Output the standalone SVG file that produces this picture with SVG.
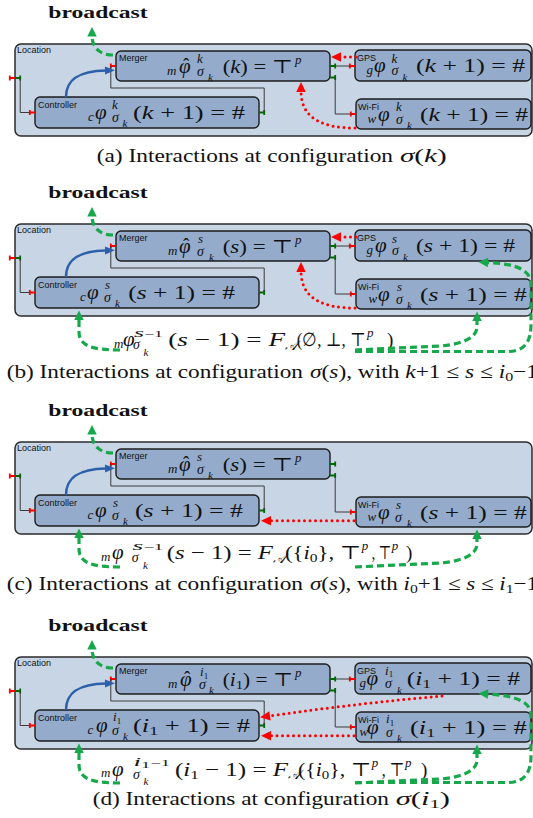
<svg xmlns="http://www.w3.org/2000/svg" width="533" height="818" viewBox="0 0 533 818">
<style>
.loc{fill:#c8d5e5;stroke:#2b2b2b;stroke-width:1.5}
.box{fill:#94abcb;stroke:#1c1c1c;stroke-width:1.4}
.wire{fill:none;stroke:#3a3a3a;stroke-width:1}
.gd{fill:none;stroke:#17a84b;stroke-width:3.2;stroke-dasharray:7 4;marker-end:url(#mg)}
.rd{fill:none;stroke:#ff0000;stroke-width:3;stroke-linecap:round;stroke-dasharray:0 5.5;marker-end:url(#mr)}
.bl{fill:none;stroke:#2d60ab;stroke-width:2.5;marker-end:url(#mb)}
.lbl{font-family:"Liberation Sans",Arial,sans-serif;font-size:9px;fill:#111}
.mt{font-family:"Liberation Serif","DejaVu Serif",serif;font-size:19px;fill:#111}
.it{font-style:italic}
.ph{font-size:21px;font-style:italic}
.hat{font-size:19px;font-style:normal}
.s{font-size:13px;font-style:italic}
.sg{font-size:14px;font-style:italic}
.ss{font-size:11px;font-style:italic}
.n9{font-size:9px;font-style:normal}
.bc{font-family:"Liberation Serif",serif;font-weight:bold;font-size:17px;fill:#111}
.cap{font-family:"Liberation Serif","DejaVu Serif",serif;font-size:19px;fill:#111}
</style>
<defs>
<marker id="mg" markerUnits="userSpaceOnUse" markerWidth="12" markerHeight="12" refX="1" refY="4.75" orient="auto" overflow="visible"><path d="M0,0L9.5,4.75L0,9.5z" fill="#17a84b"/></marker>
<marker id="mr" markerUnits="userSpaceOnUse" markerWidth="12" markerHeight="12" refX="1" refY="4.75" orient="auto" overflow="visible"><path d="M0,0L10,4.75L0,9.5z" fill="#ff0000"/></marker>
<marker id="mb" markerUnits="userSpaceOnUse" markerWidth="12" markerHeight="12" refX="1" refY="4" orient="auto" overflow="visible"><path d="M0,0L10,4L0,8z" fill="#2d60ab"/></marker>
<g id="pr"><path d="M0,0H6M0.8,-2.6V2.6" stroke="#ff0000" stroke-width="1.8" fill="none"/></g>
<g id="pg"><path d="M0,0H6M5.2,-2.6V2.6" stroke="#006b00" stroke-width="1.8" fill="none"/></g>
</defs>

<!-- ================= PANEL A ================= -->
<g id="panel-a">
<text id="a-broadcast" class="bc" x="48.3" y="18.3" textLength="99.4" lengthAdjust="spacingAndGlyphs">broadcast</text>
<g id="a-location"><rect class="loc" x="15" y="44" width="517" height="92" rx="6"/><text class="lbl" x="17" y="53.2">Location</text><use href="#pr" x="9" y="78"/><use href="#pg" x="15" y="78"/></g>
<g id="a-merger"><rect class="box" x="116" y="51" width="214" height="30" rx="5"/><text class="lbl" x="119" y="60.5">Merger</text><use href="#pr" x="110" y="66"/><use href="#pg" x="330" y="66"/><use href="#pg" x="330" y="77.5"/>
<text class="mt"><tspan class="s" x="167" y="74.5">m</tspan><tspan class="ph" x="179" y="72.5">φ</tspan><tspan class="hat" x="183" y="70.5">ˆ</tspan><tspan class="s" x="197" y="63">k</tspan><tspan class="sg" x="197" y="75.5">σ</tspan><tspan class="ss" x="208" y="81">k</tspan><tspan x="222.7" y="72.5" textLength="70.3" lengthAdjust="spacingAndGlyphs">(<tspan class="it">k</tspan>) = ⊤</tspan><tspan class="s" x="295" y="63.5">p</tspan></text></g>
<g id="a-controller"><rect class="box" x="35" y="97" width="224" height="31" rx="5"/><text class="lbl" x="38" y="108.3">Controller</text><use href="#pr" x="29" y="112.5"/><use href="#pg" x="259" y="112.5"/>
<text class="mt"><tspan class="s" x="88" y="120.5">c</tspan><tspan class="ph" x="95" y="118.5">φ</tspan><tspan class="s" x="112" y="109">k</tspan><tspan class="sg" x="112" y="121.5">σ</tspan><tspan class="ss" x="122.5" y="127">k</tspan><tspan x="133" y="118.5" textLength="112" lengthAdjust="spacingAndGlyphs">(<tspan class="it">k</tspan> + 1) = #</tspan></text></g>
<g id="a-gps"><rect class="box" x="355" y="50" width="176" height="31" rx="5"/><text class="lbl" x="357" y="61">GPS</text><use href="#pr" x="349" y="66"/>
<text class="mt"><tspan class="s" x="366.5" y="74">g</tspan><tspan class="ph" x="374" y="72">φ</tspan><tspan class="s" x="391.5" y="62.5">k</tspan><tspan class="sg" x="391.5" y="75">σ</tspan><tspan class="ss" x="402.5" y="80.5">k</tspan><tspan x="416" y="72" textLength="109" lengthAdjust="spacingAndGlyphs">(<tspan class="it">k</tspan> + 1) = #</tspan></text></g>
<g id="a-wifi"><rect class="box" x="356" y="99" width="175" height="30" rx="5"/><text class="lbl" x="358" y="110">Wi-Fi</text><use href="#pr" x="350" y="114"/>
<text class="mt"><tspan class="s" x="367.5" y="122.5">w</tspan><tspan class="ph" x="378" y="120.5">φ</tspan><tspan class="s" x="396" y="111">k</tspan><tspan class="sg" x="396" y="123.5">σ</tspan><tspan class="ss" x="407" y="129">k</tspan><tspan x="420" y="120.5" textLength="108" lengthAdjust="spacingAndGlyphs">(<tspan class="it">k</tspan> + 1) = #</tspan></text></g>
<g id="a-connectors">
<path class="wire" d="M20.2,78V112.5H29.8"/>
<path class="wire" d="M264.2,112.5V88H110.8V66"/>
<path class="wire" d="M335.2,66H349.8"/>
<path class="wire" d="M335.2,77.5V114H350.8"/>
<path class="bl" d="M66,97C66,80 78,71 106,70.5"/>
<path class="gd" d="M113,55C100,55 92,48 92,35.5"/>
<path class="rd" d="M356,57H340"/>
<path class="rd" d="M355,128C325,128 301,120 301,91"/>
</g>
<text id="a-caption" class="cap" y="161.5"><tspan x="96.7" textLength="296.3" lengthAdjust="spacingAndGlyphs">(a) Interactions at configuration</tspan><tspan x="400" textLength="46.7" lengthAdjust="spacingAndGlyphs"><tspan class="it">σ</tspan>(<tspan class="it">k</tspan>)</tspan></text>
</g>

<!-- ================= PANEL B ================= -->
<g id="panel-b" transform="translate(0,180)">
<text id="b-broadcast" class="bc" x="48.3" y="18.3" textLength="99.4" lengthAdjust="spacingAndGlyphs">broadcast</text>
<g id="b-location"><rect class="loc" x="15" y="44" width="517" height="92" rx="6"/><text class="lbl" x="17" y="53.2">Location</text><use href="#pr" x="9" y="78"/><use href="#pg" x="15" y="78"/></g>
<g id="b-merger"><rect class="box" x="116" y="51" width="214" height="30" rx="5"/><text class="lbl" x="119" y="60.5">Merger</text><use href="#pr" x="110" y="66"/><use href="#pg" x="330" y="66"/><use href="#pg" x="330" y="77.5"/>
<text class="mt"><tspan class="s" x="168" y="74.5">m</tspan><tspan class="ph" x="179" y="72.5">φ</tspan><tspan class="hat" x="183" y="70.5">ˆ</tspan><tspan class="s" x="198" y="63">s</tspan><tspan class="sg" x="197" y="75.5">σ</tspan><tspan class="ss" x="209" y="81">k</tspan><tspan x="222.7" y="72.5" textLength="70.3" lengthAdjust="spacingAndGlyphs">(<tspan class="it">s</tspan>) = ⊤</tspan><tspan class="s" x="295" y="63.5">p</tspan></text></g>
<g id="b-controller"><rect class="box" x="35" y="97" width="224" height="31" rx="5"/><text class="lbl" x="38" y="108.3">Controller</text><use href="#pr" x="29" y="112.5"/><use href="#pg" x="259" y="112.5"/>
<text class="mt"><tspan class="s" x="80" y="120.5">c</tspan><tspan class="ph" x="87" y="118.5">φ</tspan><tspan class="s" x="105" y="109">s</tspan><tspan class="sg" x="104" y="121.5">σ</tspan><tspan class="ss" x="115" y="127">k</tspan><tspan x="128.3" y="118.5" textLength="106.7" lengthAdjust="spacingAndGlyphs">(<tspan class="it">s</tspan> + 1) = #</tspan></text></g>
<g id="b-gps"><rect class="box" x="355" y="50" width="176" height="31" rx="5"/><text class="lbl" x="357" y="61">GPS</text><use href="#pr" x="349" y="66"/>
<text class="mt"><tspan class="s" x="366.5" y="74">g</tspan><tspan class="ph" x="375" y="72">φ</tspan><tspan class="s" x="392" y="62.5">s</tspan><tspan class="sg" x="392" y="75">σ</tspan><tspan class="ss" x="403" y="80.5">k</tspan><tspan x="416" y="72" textLength="99" lengthAdjust="spacingAndGlyphs">(<tspan class="it">s</tspan> + 1) = #</tspan></text></g>
<g id="b-wifi"><rect class="box" x="356" y="99" width="175" height="30" rx="5"/><text class="lbl" x="358" y="110">Wi-Fi</text><use href="#pr" x="350" y="114"/>
<text class="mt"><tspan class="s" x="368.5" y="122.5">w</tspan><tspan class="ph" x="378" y="120.5">φ</tspan><tspan class="s" x="397" y="111">s</tspan><tspan class="sg" x="396" y="123.5">σ</tspan><tspan class="ss" x="407" y="129">k</tspan><tspan x="420" y="120.5" textLength="106.7" lengthAdjust="spacingAndGlyphs">(<tspan class="it">s</tspan> + 1) = #</tspan></text></g>
<text id="b-formula" class="mt"><tspan class="s" x="114" y="167.5">m</tspan><tspan class="ph" x="123" y="166">φ</tspan><tspan class="s" x="134" y="156.5" textLength="29" lengthAdjust="spacingAndGlyphs">s<tspan class="n9" font-size="13">−1</tspan></tspan><tspan class="sg" x="133" y="169">σ</tspan><tspan class="ss" x="143.5" y="175.5">k</tspan><tspan x="168.3" y="166" textLength="116.7" lengthAdjust="spacingAndGlyphs">(<tspan class="it">s</tspan> − 1) = <tspan class="it">F</tspan></tspan><tspan class="s" x="285" y="169.5">𝒜</tspan><tspan x="296.7" y="166" textLength="69" lengthAdjust="spacingAndGlyphs">(∅, ⊥, ⊤</tspan><tspan class="s" x="367" y="157">p</tspan><tspan x="387" y="166">)</tspan></text>
<g id="b-connectors">
<path class="wire" d="M20.2,78V112.5H29.8"/>
<path class="wire" d="M264.2,112.5V88H110.8V66"/>
<path class="wire" d="M335.2,66H349.8"/>
<path class="wire" d="M335.2,77.5V114H350.8"/>
<path class="bl" d="M66,97C66,80 78,71 106,70.5"/>
<path class="gd" d="M113,55C100,55 92,48 92,35.5"/>
<path class="rd" d="M356,57H340"/>
<path class="rd" d="M355,128C325,128 301,120 301,91"/>
<path class="gd" d="M120,170C92,170 79,166 79,152L79,139"/>
<path class="gd" d="M355,170L440,166C466,164 477,156 477,147L477,140"/>
<path class="gd" d="M355,171.5L508,171.5C524,171.5 531,162 531,145L531,105C531,90 518,84 487,82.5"/>
</g>
<text id="b-caption" class="cap" y="197.5"><tspan x="6.7" textLength="296.3" lengthAdjust="spacingAndGlyphs">(b) Interactions at configuration</tspan><tspan x="310" textLength="228" lengthAdjust="spacingAndGlyphs"><tspan class="it">σ</tspan>(<tspan class="it">s</tspan>), with <tspan class="it">k</tspan>+1 ≤ <tspan class="it">s</tspan> ≤ <tspan class="it">i</tspan><tspan font-size="13" dy="3">0</tspan><tspan dy="-3">−1</tspan></tspan></text>
</g>

<!-- ================= PANEL C ================= -->
<g id="panel-c" transform="translate(0,398)">
<text id="c-broadcast" class="bc" x="48.3" y="18.3" textLength="99.4" lengthAdjust="spacingAndGlyphs">broadcast</text>
<g id="c-location"><rect class="loc" x="15" y="44" width="517" height="92" rx="6"/><text class="lbl" x="17" y="53.2">Location</text><use href="#pr" x="9" y="78"/><use href="#pg" x="15" y="78"/></g>
<g id="c-merger"><rect class="box" x="116" y="51" width="214" height="30" rx="5"/><text class="lbl" x="119" y="60.5">Merger</text><use href="#pr" x="110" y="66"/><use href="#pg" x="330" y="66"/><use href="#pg" x="330" y="77.5"/>
<text class="mt"><tspan class="s" x="168" y="74.5">m</tspan><tspan class="ph" x="179" y="72.5">φ</tspan><tspan class="hat" x="183" y="70.5">ˆ</tspan><tspan class="s" x="197" y="63">s</tspan><tspan class="sg" x="197" y="75.5">σ</tspan><tspan class="ss" x="208" y="81">k</tspan><tspan x="222.7" y="72.5" textLength="70.3" lengthAdjust="spacingAndGlyphs">(<tspan class="it">s</tspan>) = ⊤</tspan><tspan class="s" x="295" y="63.5">p</tspan></text></g>
<g id="c-controller"><rect class="box" x="35" y="97" width="224" height="31" rx="5"/><text class="lbl" x="38" y="108.3">Controller</text><use href="#pr" x="29" y="112.5"/><use href="#pg" x="259" y="112.5"/>
<text class="mt"><tspan class="s" x="87.5" y="120.5">c</tspan><tspan class="ph" x="95" y="118.5">φ</tspan><tspan class="s" x="113" y="109">s</tspan><tspan class="sg" x="112" y="121.5">σ</tspan><tspan class="ss" x="123" y="127">k</tspan><tspan x="135" y="118.5" textLength="108" lengthAdjust="spacingAndGlyphs">(<tspan class="it">s</tspan> + 1) = #</tspan></text></g>
<g id="c-wifi"><rect class="box" x="356" y="99" width="175" height="30" rx="5"/><text class="lbl" x="358" y="110">Wi-Fi</text><use href="#pr" x="350" y="114"/>
<text class="mt"><tspan class="s" x="367.5" y="122.5">w</tspan><tspan class="ph" x="378" y="120.5">φ</tspan><tspan class="s" x="396" y="111">s</tspan><tspan class="sg" x="395" y="123.5">σ</tspan><tspan class="ss" x="407" y="129">k</tspan><tspan x="420" y="120.5" textLength="106.7" lengthAdjust="spacingAndGlyphs">(<tspan class="it">s</tspan> + 1) = #</tspan></text></g>
<text id="c-formula" class="mt"><tspan class="s" x="101" y="162.5">m</tspan><tspan class="ph" x="112" y="161">φ</tspan><tspan class="s" x="132.5" y="151.5" textLength="30.8" lengthAdjust="spacingAndGlyphs">s<tspan class="n9" font-size="13">−1</tspan></tspan><tspan class="sg" x="131.7" y="164">σ</tspan><tspan class="ss" x="143" y="170.5">k</tspan><tspan x="166.7" y="161" textLength="106.3" lengthAdjust="spacingAndGlyphs">(<tspan class="it">s</tspan> − 1) = <tspan class="it">F</tspan></tspan><tspan class="s" x="273" y="164.5">𝒜</tspan><tspan x="285" y="161" textLength="76.2" lengthAdjust="spacingAndGlyphs">({<tspan class="it">i</tspan><tspan font-size="13" dy="3">0</tspan><tspan dy="-3">}, ⊤</tspan></tspan><tspan class="s" x="361.7" y="152">p</tspan><tspan x="371.7" y="161" textLength="19.5" lengthAdjust="spacingAndGlyphs">, ⊤</tspan><tspan class="s" x="391.7" y="152">p</tspan><tspan x="406" y="161">)</tspan></text>
<g id="c-connectors">
<path class="wire" d="M20.2,78V112.5H29.8"/>
<path class="wire" d="M264.2,112.5V88H110.8V66"/>
<path class="wire" d="M335.2,77.5V114H350.8"/>
<path class="bl" d="M66,97C66,80 78,71 106,70.5"/>
<path class="gd" d="M113,55C100,55 92,48 92,35.5"/>
<path class="rd" d="M354,122.7H270"/>
<path class="gd" d="M120,169C92,169 79,165 79,151L79,139"/>
<path class="gd" d="M355,169L440,165C466,163 477,155 477,146L477,140"/>
</g>
<text id="c-caption" class="cap" y="192"><tspan x="6.7" textLength="296.3" lengthAdjust="spacingAndGlyphs">(c) Interactions at configuration</tspan><tspan x="310" textLength="228" lengthAdjust="spacingAndGlyphs"><tspan class="it">σ</tspan>(<tspan class="it">s</tspan>), with <tspan class="it">i</tspan><tspan font-size="13" dy="3">0</tspan><tspan dy="-3">+1 ≤ </tspan><tspan class="it">s</tspan> ≤ <tspan class="it">i</tspan><tspan font-size="13" dy="3">1</tspan><tspan dy="-3">−1</tspan></tspan></text>
</g>

<!-- ================= PANEL D ================= -->
<g id="panel-d" transform="translate(0,613)">
<text id="d-broadcast" class="bc" x="48.3" y="18.3" textLength="99.4" lengthAdjust="spacingAndGlyphs">broadcast</text>
<g id="d-location"><rect class="loc" x="15" y="44" width="517" height="92" rx="6"/><text class="lbl" x="17" y="53.2">Location</text><use href="#pr" x="9" y="78"/><use href="#pg" x="15" y="78"/></g>
<g id="d-merger"><rect class="box" x="116" y="51" width="214" height="30" rx="5"/><text class="lbl" x="119" y="60.5">Merger</text><use href="#pr" x="110" y="66"/><use href="#pg" x="330" y="66"/><use href="#pg" x="330" y="77.5"/>
<text class="mt"><tspan class="s" x="168" y="74.5">m</tspan><tspan class="ph" x="180" y="72.5">φ</tspan><tspan class="hat" x="184" y="70.5">ˆ</tspan><tspan class="s" x="200" y="63">i<tspan class="n9" dy="2.5">1</tspan></tspan><tspan class="sg" x="199" y="75.5">σ</tspan><tspan class="ss" x="209" y="81">k</tspan><tspan x="222.7" y="72.5" textLength="70.3" lengthAdjust="spacingAndGlyphs">(<tspan class="it">i</tspan><tspan font-size="13" dy="3">1</tspan><tspan dy="-3">) = ⊤</tspan></tspan><tspan class="s" x="295" y="63.5">p</tspan></text></g>
<g id="d-controller"><rect class="box" x="35" y="97" width="224" height="31" rx="5"/><text class="lbl" x="38" y="108.3">Controller</text><use href="#pr" x="29" y="112.5"/><use href="#pg" x="259" y="112.5"/>
<text class="mt"><tspan class="s" x="87.5" y="120.5">c</tspan><tspan class="ph" x="96" y="118.5">φ</tspan><tspan class="s" x="113" y="108">i<tspan class="n9" dy="2.5">1</tspan></tspan><tspan class="sg" x="112" y="121.5">σ</tspan><tspan class="ss" x="123" y="127">k</tspan><tspan x="133" y="118.5" textLength="117" lengthAdjust="spacingAndGlyphs">(<tspan class="it">i</tspan><tspan font-size="13" dy="3">1</tspan><tspan dy="-3"> + 1) = #</tspan></tspan></text></g>
<g id="d-gps"><rect class="box" x="355" y="50" width="176" height="31" rx="5"/><text class="lbl" x="357" y="61">GPS</text><use href="#pr" x="349" y="66"/>
<text class="mt"><tspan class="s" x="359.5" y="74">g</tspan><tspan class="ph" x="366.5" y="72">φ</tspan><tspan class="s" x="385" y="61.5">i<tspan class="n9" dy="2.5">1</tspan></tspan><tspan class="sg" x="385" y="75">σ</tspan><tspan class="ss" x="397" y="80.5">k</tspan><tspan x="406.7" y="72" textLength="113.3" lengthAdjust="spacingAndGlyphs">(<tspan class="it">i</tspan><tspan font-size="13" dy="3">1</tspan><tspan dy="-3"> + 1) = #</tspan></tspan></text></g>
<g id="d-wifi"><rect class="box" x="356" y="99" width="175" height="30" rx="5"/><text class="lbl" x="358" y="110">Wi-Fi</text><use href="#pr" x="350" y="114"/>
<text class="mt"><tspan class="s" x="359.5" y="122.5">w</tspan><tspan class="ph" x="367" y="120.5">φ</tspan><tspan class="s" x="386" y="110">i<tspan class="n9" dy="2.5">1</tspan></tspan><tspan class="sg" x="386" y="123.5">σ</tspan><tspan class="ss" x="397" y="129">k</tspan><tspan x="410" y="120.5" textLength="116.7" lengthAdjust="spacingAndGlyphs">(<tspan class="it">i</tspan><tspan font-size="13" dy="3">1</tspan><tspan dy="-3"> + 1) = #</tspan></tspan></text></g>
<text id="d-formula" class="mt"><tspan class="s" x="101" y="164">m</tspan><tspan class="ph" x="112" y="162.5">φ</tspan><tspan class="s" x="133.5" y="152.5" textLength="36.5" lengthAdjust="spacingAndGlyphs">i<tspan class="n9" dy="2.5">1</tspan><tspan class="n9" font-size="13" dy="-2.5">−1</tspan></tspan><tspan class="sg" x="133" y="165.5">σ</tspan><tspan class="ss" x="143.5" y="172">k</tspan><tspan x="175" y="162.5" textLength="113" lengthAdjust="spacingAndGlyphs">(<tspan class="it">i</tspan><tspan font-size="13" dy="3">1</tspan><tspan dy="-3"> − 1) = </tspan><tspan class="it">F</tspan></tspan><tspan class="s" x="288" y="166">𝒜</tspan><tspan x="298" y="162.5" textLength="73.2" lengthAdjust="spacingAndGlyphs">({<tspan class="it">i</tspan><tspan font-size="13" dy="3">0</tspan><tspan dy="-3">}, ⊤</tspan></tspan><tspan class="s" x="371.7" y="153.5">p</tspan><tspan x="381.7" y="162.5" textLength="22.8" lengthAdjust="spacingAndGlyphs">, ⊤</tspan><tspan class="s" x="405" y="153.5">p</tspan><tspan x="421" y="162.5">)</tspan></text>
<g id="d-connectors">
<path class="wire" d="M20.2,78V112.5H29.8"/>
<path class="wire" d="M264.2,112.5V88H110.8V66"/>
<path class="wire" d="M335.2,66H349.8"/>
<path class="wire" d="M335.2,77.5V114H350.8"/>
<path class="bl" d="M66,97C66,80 78,71 106,70.5"/>
<path class="gd" d="M113,55C100,55 92,48 92,35.5"/>
<path class="rd" d="M442,83Q360,90 269,103"/>
<path class="rd" d="M354,122.7H270"/>
<path class="gd" d="M120,170C92,170 79,166 79,152L79,139"/>
<path class="gd" d="M355,170L440,166C466,164 477,156 477,147L477,140"/>
<path class="gd" d="M355,169.5L508,169.5C524,169.5 531,160 531,143L531,103C531,89 518,83 487,81"/>
</g>
<text id="d-caption" class="cap" y="192"><tspan x="92.7" textLength="296.3" lengthAdjust="spacingAndGlyphs">(d) Interactions at configuration</tspan><tspan x="395.7" textLength="54.3" lengthAdjust="spacingAndGlyphs"><tspan class="it">σ</tspan>(<tspan class="it">i</tspan><tspan font-size="13" dy="3">1</tspan><tspan dy="-3">)</tspan></tspan></text>
</g>
</svg>
